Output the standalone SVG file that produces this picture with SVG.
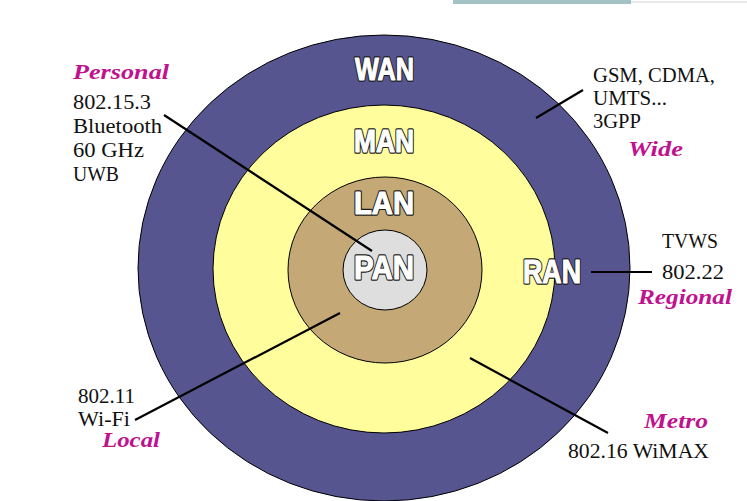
<svg xmlns="http://www.w3.org/2000/svg" width="747" height="501" viewBox="0 0 747 501">
<style>
.ring{stroke:#000;stroke-width:1}
.big{font-family:"Liberation Sans",Arial,sans-serif;font-weight:bold;fill:#fff;stroke:#1a1a1a;stroke-width:3.4;stroke-linejoin:round}
.big2{font-family:"Liberation Sans",Arial,sans-serif;font-weight:bold;fill:#fff;stroke:#fff;stroke-width:1.1;stroke-linejoin:round}
.t{font-family:"Liberation Serif","Times New Roman",serif;font-size:20px;fill:#111}
.m{font-family:"Liberation Serif","Times New Roman",serif;font-size:21px;font-weight:bold;font-style:italic;fill:#C0118F}
.c{stroke:#000;stroke-width:2.2;fill:none}
</style>
<rect width="747" height="501" fill="#fff"/>
<rect x="453" y="0" width="178" height="4" fill="#a3c2c6"/>
<line x1="631" y1="2" x2="747" y2="2" stroke="#e2e2e2" stroke-width="1.5"/>
<g id="wan"><ellipse class="ring" cx="384" cy="268" rx="246" ry="233" fill="#565590"/></g>
<g id="man"><ellipse class="ring" cx="384" cy="269" rx="171" ry="164" fill="#FFFD9C"/></g>
<g id="lan"><ellipse class="ring" cx="385" cy="270" rx="97" ry="93" fill="#C4A876"/></g>
<g id="pan"><ellipse class="ring" cx="385" cy="270" rx="42" ry="40" fill="#DEDEDE"/></g>
<g id="labels">
<text class="big" x="355" y="80" font-size="31" textLength="59" lengthAdjust="spacingAndGlyphs">WAN</text>
<text class="big2" x="355" y="80" font-size="31" textLength="59" lengthAdjust="spacingAndGlyphs">WAN</text>
<text class="big" x="354" y="152" font-size="31" textLength="60" lengthAdjust="spacingAndGlyphs">MAN</text>
<text class="big2" x="354" y="152" font-size="31" textLength="60" lengthAdjust="spacingAndGlyphs">MAN</text>
<text class="big" x="354" y="214" font-size="31" textLength="60" lengthAdjust="spacingAndGlyphs">LAN</text>
<text class="big2" x="354" y="214" font-size="31" textLength="60" lengthAdjust="spacingAndGlyphs">LAN</text>
<text class="big" x="354" y="279" font-size="34" textLength="60" lengthAdjust="spacingAndGlyphs">PAN</text>
<text class="big2" x="354" y="279" font-size="34" textLength="60" lengthAdjust="spacingAndGlyphs">PAN</text>
<text class="big" x="523" y="283" font-size="33" textLength="58" lengthAdjust="spacingAndGlyphs">RAN</text>
<text class="big2" x="523" y="283" font-size="33" textLength="58" lengthAdjust="spacingAndGlyphs">RAN</text>
</g>
<g id="connectors">
<line class="c" x1="164" y1="115" x2="372" y2="251"/>
<line class="c" x1="583" y1="90" x2="536" y2="118"/>
<line class="c" x1="591" y1="272" x2="652" y2="272" stroke-width="3.2"/>
<line class="c" x1="135" y1="420" x2="340" y2="313"/>
<line class="c" x1="470" y1="358" x2="608" y2="433"/>
</g>
<g id="personal">
<text class="m" x="73" y="79" textLength="96" lengthAdjust="spacingAndGlyphs">Personal</text>
<text class="t" x="73" y="109" textLength="78" lengthAdjust="spacingAndGlyphs">802.15.3</text>
<text class="t" x="73" y="133" textLength="89" lengthAdjust="spacingAndGlyphs">Bluetooth</text>
<text class="t" x="73" y="157" textLength="71" lengthAdjust="spacingAndGlyphs">60 GHz</text>
<text class="t" x="73" y="181" textLength="46" lengthAdjust="spacingAndGlyphs">UWB</text>
</g>
<g id="wide">
<text class="t" x="593" y="82" textLength="122" lengthAdjust="spacingAndGlyphs">GSM, CDMA,</text>
<text class="t" x="593" y="105" textLength="74" lengthAdjust="spacingAndGlyphs">UMTS...</text>
<text class="t" x="593" y="128" textLength="48" lengthAdjust="spacingAndGlyphs">3GPP</text>
<text class="m" x="628" y="156" textLength="55" lengthAdjust="spacingAndGlyphs">Wide</text>
</g>
<g id="regional">
<text class="t" x="662" y="248" textLength="56" lengthAdjust="spacingAndGlyphs">TVWS</text>
<text class="t" x="662" y="279" textLength="62" lengthAdjust="spacingAndGlyphs">802.22</text>
<text class="m" x="638" y="304" textLength="94" lengthAdjust="spacingAndGlyphs">Regional</text>
</g>
<g id="local">
<text class="t" x="78" y="403" textLength="57" lengthAdjust="spacingAndGlyphs">802.11</text>
<text class="t" x="78" y="426" textLength="52" lengthAdjust="spacingAndGlyphs">Wi-Fi</text>
<text class="m" x="102" y="447" textLength="58" lengthAdjust="spacingAndGlyphs">Local</text>
</g>
<g id="metro">
<text class="m" x="644" y="428" textLength="64" lengthAdjust="spacingAndGlyphs">Metro</text>
<text class="t" x="568" y="458" textLength="141" lengthAdjust="spacingAndGlyphs">802.16 WiMAX</text>
</g>
</svg>
